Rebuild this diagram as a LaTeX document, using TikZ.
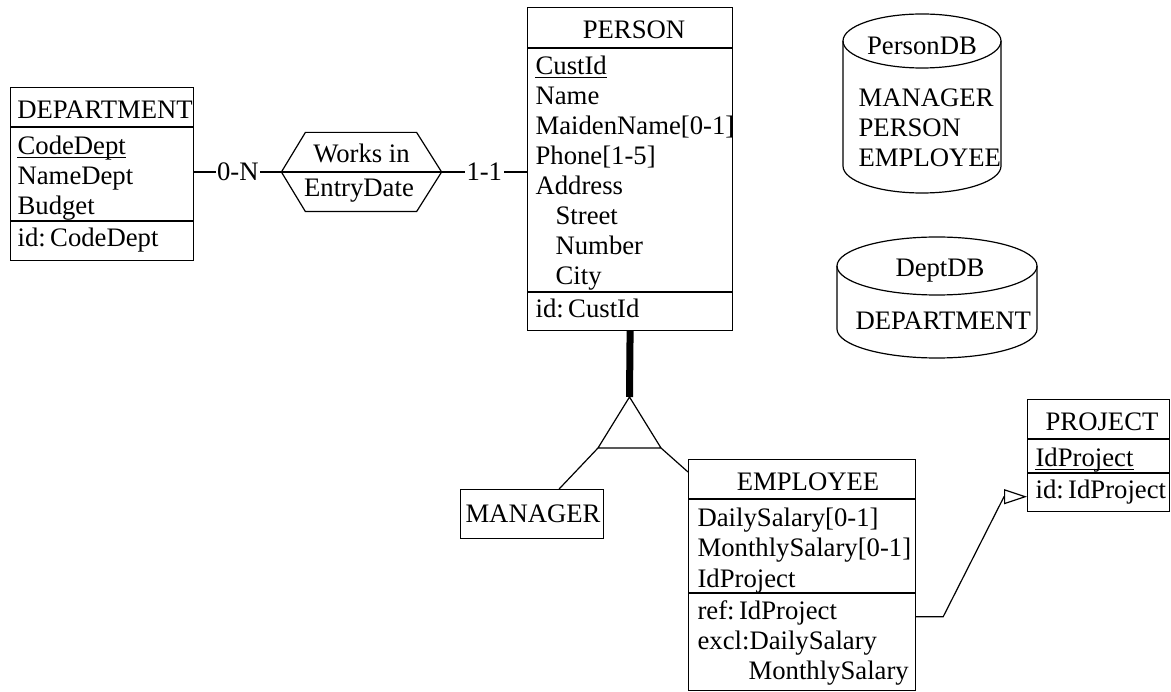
\documentclass[tikz,border=0pt]{standalone}
\usepackage{fontspec}
\setmainfont{Liberation Serif}
\usetikzlibrary{arrows.meta}
\begin{document}
\begin{tikzpicture}[x=1pt, y=-1pt, line width=1.2pt, line join=miter,
  every node/.style={inner sep=0pt, font=\fontsize{26.7}{30}\selectfont},
  ebox/.style={draw, anchor=north west},
  attr/.style={anchor=base west},
  title/.style={anchor=base},
  card/.style={fill=white, inner xsep=1.5pt, inner ysep=1pt},
  isa/.style={line width=7pt},
  refarrow/.style={-{Triangle[open, length=23pt, width=15pt]}}
]
\useasboundingbox (0,0) rectangle (1171,692);

% ---------- DEPARTMENT ----------
\node[ebox, minimum width=183pt, minimum height=173pt] (dept) at (10,87) {};
\draw ([yshift=-40pt]dept.north west) -- ([yshift=-40pt]dept.north east)
      ([yshift=-134pt]dept.north west) -- ([yshift=-134pt]dept.north east);
\node[title] (deptT) at (105,119) {DEPARTMENT};
\node[attr] (deptA1) at (17,155) {CodeDept};
\draw ([yshift=-2.5pt]deptA1.base west) -- ([yshift=-2.5pt]deptA1.base east);
\node[attr] (deptA2) at (17,185) {NameDept};
\node[attr] (deptA3) at (17,215) {Budget};
\node[attr] (deptId) at (17,247) {id:\,CodeDept};

% ---------- Works in (relationship) ----------
\node[minimum width=159pt, minimum height=78pt] (rel) at (361.5,172) {};
\draw (rel.west) -- ([xshift=24pt]rel.north west) -- ([xshift=-25pt]rel.north east)
      -- (rel.east) -- ([xshift=-25pt]rel.south east) -- ([xshift=24pt]rel.south west)
      -- cycle;
\draw (rel.west) -- (rel.east);
\node[title] (relT) at (361.5,163) {Works in};
\node[title] (relA) at (359,197) {EntryDate};

% ---------- PERSON ----------
\node[ebox, minimum width=205pt, minimum height=323pt] (person) at (527,7) {};
\draw ([yshift=-41pt]person.north west) -- ([yshift=-41pt]person.north east)
      ([yshift=-285pt]person.north west) -- ([yshift=-285pt]person.north east);
\node[title] (personT) at (634,39) {PERSON};
\node[attr] (pA1) at (535,75) {CustId};
\draw ([yshift=-2.5pt]pA1.base west) -- ([yshift=-2.5pt]pA1.base east);
\node[attr] (pA2) at (535,105) {Name};
\node[attr] (pA3) at (535,135) {MaidenName[0-1]};
\node[attr] (pA4) at (535,165) {Phone[1-5]};
\node[attr] (pA5) at (535,195) {Address};
\node[attr] (pA6) at (555,225) {Street};
\node[attr] (pA7) at (555,255) {Number};
\node[attr] (pA8) at (555,285) {City};
\node[attr] (pId) at (535,318) {id:\,CustId};

% roles of Works in
\draw (dept.east |- rel.west) -- node[card] (c1) {0-N} (rel.west);
\draw (rel.east) -- node[card] (c2) {1-1} (person.west |- rel.east);

% ---------- ISA hierarchy ----------
\coordinate (isaTop) at (629.5,397);
\coordinate (isaL) at (598,448);
\coordinate (isaR) at (661,448);
\draw[isa] (person.south) -- (isaTop);
\draw (isaTop) -- (isaL) -- (isaR) -- cycle;

% ---------- MANAGER ----------
\node[ebox, minimum width=143pt, minimum height=49pt] (mgr) at (460,489) {};
\node[title] (mgrT) at (533,522) {MANAGER};
\draw (isaL) -- ([xshift=27pt]mgr.north);

% ---------- EMPLOYEE ----------
\node[ebox, minimum width=227pt, minimum height=231pt] (emp) at (688,459) {};
\draw ([yshift=-40pt]emp.north west) -- ([yshift=-40pt]emp.north east)
      ([yshift=-134pt]emp.north west) -- ([yshift=-134pt]emp.north east);
\node[title] (empT) at (808,491) {EMPLOYEE};
\node[attr] (eA1) at (697,527) {DailySalary[0-1]};
\node[attr] (eA2) at (697,557) {MonthlySalary[0-1]};
\node[attr] (eA3) at (697,587) {IdProject};
\node[attr] (eref) at (697,619) {ref:\,IdProject};
\node[attr] (eexcl) at (697,649) {excl:DailySalary};
\node[attr] (eexcl2) at (748,679) {MonthlySalary};
\draw (isaR) -- ([yshift=-13pt]emp.north west);

% ---------- PROJECT ----------
\node[ebox, minimum width=142pt, minimum height=112pt] (proj) at (1027,399) {};
\draw ([yshift=-40pt]proj.north west) -- ([yshift=-40pt]proj.north east)
      ([yshift=-74pt]proj.north west) -- ([yshift=-74pt]proj.north east);
\node[title] (projT) at (1102,431) {PROJECT};
\node[attr] (prA1) at (1035,467) {IdProject};
\draw ([yshift=-2.5pt]prA1.base west) -- ([yshift=-2.5pt]prA1.base east);
\node[attr] (prId) at (1035,499) {id:\,IdProject};

% reference EMPLOYEE -> PROJECT
\draw[refarrow] (emp.east |- eref.mid) -- ++(27,0)
      -- ([xshift=-23pt]proj.west |- prId.mid) -- (proj.west |- prId.mid);

% ---------- PersonDB ----------
\coordinate (pdbTop) at (922,41);
\coordinate (pdbBot) at (922,166);
\draw (pdbTop) ellipse [x radius=79pt, y radius=27pt];
\draw ([xshift=-79pt]pdbTop) -- ([xshift=-79pt]pdbBot)
      arc[start angle=180, end angle=360, x radius=79pt, y radius=27pt]
      -- ([xshift=79pt]pdbTop);
\node[title] (pdbT) at (922,55) {PersonDB};
\node[attr] (pdb1) at (858,107) {MANAGER};
\node[attr] (pdb2) at (858,137) {PERSON};
\node[attr] (pdb3) at (858,167) {EMPLOYEE};

% ---------- DeptDB ----------
\coordinate (ddbTop) at (937,266);
\coordinate (ddbBot) at (937,329);
\draw (ddbTop) ellipse [x radius=100pt, y radius=29pt];
\draw ([xshift=-100pt]ddbTop) -- ([xshift=-100pt]ddbBot)
      arc[start angle=180, end angle=360, x radius=100pt, y radius=29pt]
      -- ([xshift=100pt]ddbTop);
\node[title] (ddbT) at (940,277) {DeptDB};
\node[attr] (ddb1) at (855,330) {DEPARTMENT};
\end{tikzpicture}
\end{document}
